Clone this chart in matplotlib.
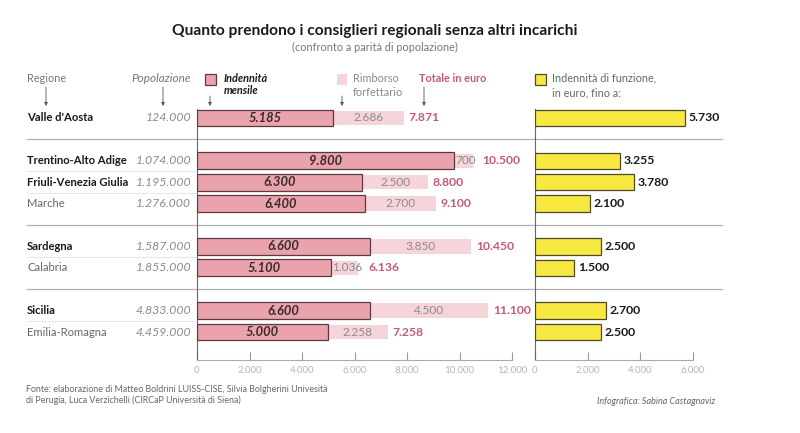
import matplotlib
matplotlib.use("Agg")

import matplotlib.pyplot as plt
from matplotlib import transforms
from matplotlib.patches import Rectangle

plt.rcParams["font.family"] = ["Lato", "DejaVu Sans"]

# ---- data ----
regioni = ["Valle d'Aosta", "Trentino-Alto Adige", "Friuli-Venezia Giulia", "Marche",
           "Sardegna", "Calabria", "Sicilia", "Emilia-Romagna"]
grassetto = [True, True, True, False, True, False, True, False]
popolazione = [124000, 1074000, 1195000, 1276000, 1587000, 1855000, 4833000, 4459000]
indennita = [5185, 9800, 6300, 6400, 6600, 5100, 6600, 5000]
rimborso = [2686, 700, 2500, 2700, 3850, 1036, 4500, 2258]
totale = [7871, 10500, 8800, 9100, 10450, 6136, 11100, 7258]
funzione = [5730, 3255, 3780, 2100, 2500, 1500, 2700, 2500]
# row slots (groups separated by an empty slot)
righe = [0, 2, 3, 4, 6, 7, 9, 10]

C_DARK = "#eaa3ad"
C_EDGE = "#5a3a3e"
C_LIGHT = "#f6d5da"
C_TOT = "#c45a76"
C_YEL = "#f6e840"
C_YEL_EDGE = "#4d4a2c"


def fmt(v):
    return f"{v:,}".replace(",", ".")


W, H = 800, 433
fig = plt.figure(figsize=(8.0, 4.33), dpi=100)

# overlay in pixel coords for header / footer
ov = fig.add_axes([0, 0, 1, 1])
ov.set_xlim(0, W)
ov.set_ylim(H, 0)
ov.axis("off")

# row mapping: row 0 at px 118, 21.4 px per slot
Y0, STEP = 118, 21.4
y_top, y_bot = 109, 360
ylim = ((y_bot - Y0) / STEP, (y_top - Y0) / STEP)


def ax_rect(x0, x1):
    return [x0 / W, (H - y_bot) / H, (x1 - x0) / W, (y_bot - y_top) / H]


ax = fig.add_axes(ax_rect(197, 512))
ax2 = fig.add_axes(ax_rect(535, 692.5))

for a in (ax, ax2):
    a.set_facecolor("none")
    a.set_ylim(*ylim)
    for s in ("top", "right"):
        a.spines[s].set_visible(False)
    a.spines["left"].set_color("#666666")
    a.spines["left"].set_linewidth(0.8)
    a.spines["bottom"].set_color("#aaaaaa")
    a.spines["bottom"].set_linewidth(0.8)
    a.set_yticks([])
    a.tick_params(axis="x", direction="in", length=6, width=0.8, color="#999999",
                  labelsize=7, labelcolor="#b5b5b5", pad=4)

ax.set_xlim(0, 12000)
ax.set_xticks(range(0, 12001, 2000))
ax.set_xticklabels([fmt(t) for t in range(0, 12001, 2000)])
ax2.set_xlim(0, 6000)
ax2.set_xticks(range(0, 6001, 2000))
ax2.set_xticklabels([fmt(t) for t in range(0, 6001, 2000)])

# bars
ax.barh(righe, rimborso, left=indennita, height=0.68, color=C_LIGHT, zorder=2)
ax.barh(righe, indennita, height=0.78, color=C_DARK, edgecolor=C_EDGE, linewidth=0.9, zorder=3)
ax2.barh(righe, funzione, height=0.76, color=C_YEL, edgecolor=C_YEL_EDGE, linewidth=0.9, zorder=3)

renderer = fig.canvas.get_renderer()
inv = ax.transData.inverted()

for r, ind, rim, tot, fz in zip(righe, indennita, rimborso, totale, funzione):
    ax.text(ind / 2, r, fmt(ind), ha="center", va="center", fontsize=9.3,
            fontweight="bold", fontstyle="italic", color="#3a2a2c", zorder=4)
    if rim < 1200:
        # narrow segment: label starts right after the dark bar
        t = ax.text(ind + 40, r, fmt(rim), ha="left", va="center", fontsize=8.5,
                    color="#8a8a8a", zorder=4)
    else:
        t = ax.text(ind + rim / 2, r, fmt(rim), ha="center", va="center", fontsize=8.5,
                    color="#8a8a8a", zorder=4)
    lab_end = inv.transform((t.get_window_extent(renderer).x1, 0))[0]
    x_tot = max(tot + 170, lab_end + 230)
    ax.text(x_tot, r, fmt(tot), ha="left", va="center", fontsize=8.7,
            fontweight="bold", color=C_TOT, zorder=4, clip_on=False)
    ax2.text(fz + 130, r, fmt(fz), ha="left", va="center", fontsize=8.8,
             fontweight="bold", color="#1a1a1a", zorder=4, clip_on=False)

# labels for regions and population
tr = transforms.blended_transform_factory(fig.transFigure, ax.transData)
for r, nome, b, pop in zip(righe, regioni, grassetto, popolazione):
    ax.text(27 / W, r, nome, transform=tr, ha="left", va="center", fontsize=8.1,
            fontweight="bold" if b else "normal", color="#1a1a1a" if b else "#666666")
    ax.text(191 / W, r, fmt(pop), transform=tr, ha="right", va="center", fontsize=8.8,
            fontstyle="italic", color="#8a8a8a")

# group separators
for y in (1, 5, 8):
    ax.plot([27 / W, 722 / W], [y, y], transform=tr, color="#b0b0b0", lw=0.9,
            clip_on=False, zorder=1)
for y in (2.5, 3.5, 6.5, 9.5):
    ax.plot([27 / W, 195 / W], [y, y], transform=tr, color="#e8e8e8", lw=0.7,
            clip_on=False, zorder=1)

# ---- header ----
ov.text(375, 31, "Quanto prendono i consiglieri regionali senza altri incarichi",
        ha="center", va="center", fontsize=11.2, fontweight="bold", color="#1a1a1a")
ov.text(375, 47, "(confronto a parità di popolazione)", ha="center", va="center",
        fontsize=7.8, color="#777777")

ov.text(27, 79, "Regione", ha="left", va="center", fontsize=7.8, color="#777777")
ov.text(191, 79, "Popolazione", ha="right", va="center", fontsize=8.5,
        fontstyle="italic", color="#777777")

ov.add_patch(Rectangle((205, 74), 11, 11, facecolor=C_DARK, edgecolor=C_EDGE, lw=0.9))
ov.text(224, 78, "Indennità", ha="left", va="center", fontsize=7.8,
        fontweight="bold", fontstyle="italic", color="#1a1a1a")
ov.text(224, 91, "mensile", ha="left", va="center", fontsize=7.8,
        fontweight="bold", fontstyle="italic", color="#1a1a1a")

ov.add_patch(Rectangle((337, 74), 10, 11, facecolor=C_LIGHT, edgecolor="none"))
ov.text(353, 78, "Rimborso", ha="left", va="center", fontsize=7.8, color="#888888")
ov.text(353, 92, "forfettario", ha="left", va="center", fontsize=7.8, color="#888888")

ov.text(419, 78, "Totale in euro", ha="left", va="center", fontsize=7.8,
        fontweight="bold", color=C_TOT)

ov.add_patch(Rectangle((535, 74), 11, 11, facecolor=C_YEL, edgecolor=C_YEL_EDGE, lw=0.9))
ov.text(552, 78, "Indennità di funzione,", ha="left", va="center", fontsize=7.8,
        color="#666666")
ov.text(552, 93, "in euro, fino a:", ha="left", va="center", fontsize=7.8,
        color="#666666")

arrow = dict(arrowstyle="-|>", color="#555555", lw=0.6, mutation_scale=5,
             shrinkA=0, shrinkB=0)
for x, y_start in ((46, 87), (163, 87), (210, 96), (342, 96), (424, 87)):
    ov.annotate("", xy=(x, 106), xytext=(x, y_start), arrowprops=arrow)

# ---- footer ----
ov.text(26, 389, "Fonte: elaborazione di Matteo Boldrini LUISS-CISE, Silvia Bolgherini Univesità",
        ha="left", va="center", fontsize=6.4, color="#666666")
ov.text(26, 400, "di Perugia, Luca Verzichelli (CIRCaP Università di Siena)",
        ha="left", va="center", fontsize=6.4, color="#666666")
ov.text(597, 402, "Infografica: Sabina Castagnaviz", ha="left", va="center",
        fontsize=6.5, fontstyle="italic", color="#666666")

fig.savefig("out.png", dpi=100)
plt.close(fig)
